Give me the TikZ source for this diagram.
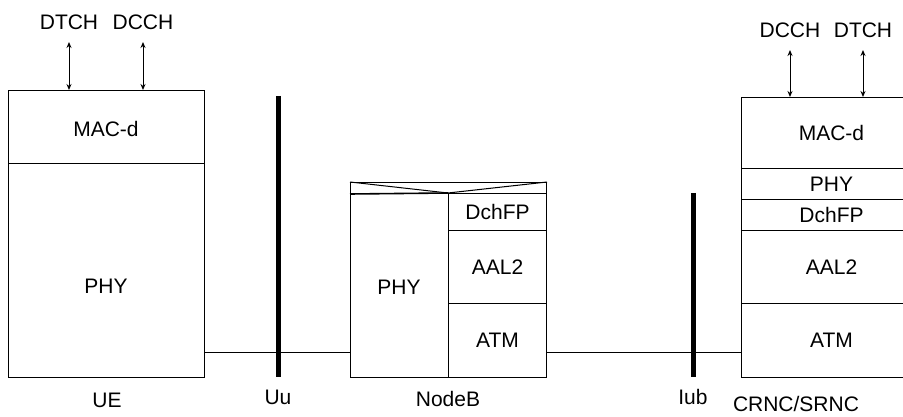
\documentclass[tikz,border=0pt]{standalone}
\usepackage{fontspec}
\setmainfont{Liberation Sans}
\usetikzlibrary{arrows.meta}
\begin{document}
\begin{tikzpicture}[x=1pt,y=-1pt,
  every node/.style={font=\fontsize{21}{24}\selectfont},
  layer/.style={draw, line width=1pt, inner sep=0pt, anchor=north west},
  txt/.style={inner sep=0pt},
  bar/.style={line width=5pt},
  wire/.style={line width=1pt},
  chan/.style={line width=1pt, {Stealth[length=6pt,width=5pt]}-{Stealth[length=6pt,width=5pt]}}]
\useasboundingbox (0,0) rectangle (903,417);
\begin{scope}
\clip (0,0) rectangle (903,417);
% UE
\node[layer, minimum width=196pt, minimum height=73pt] (uemac) at (8,90) {};
\node[layer, minimum width=196pt, minimum height=214pt] (uephy) at (8,163) {};
\node[txt] (uemact) at (106,129) {MAC-d};
\node[txt] (uephyt) at (106,286) {PHY};
% NodeB
\node[layer, minimum width=98pt, minimum height=184pt] (nbphy) at (350,193) {};
\node[layer, minimum width=98pt, minimum height=37pt] (nbfp) at (448,193) {DchFP};
\node[layer, minimum width=98pt, minimum height=73pt] (nbaal) at (448,230) {AAL2};
\node[layer, minimum width=98pt, minimum height=74pt] (nbatm) at (448,303) {ATM};
\node[layer, minimum width=196pt, minimum height=11pt] (nbtop) at (350,182) {};
\coordinate (nbmid) at (448,193);
\draw[wire] (nbtop.north west) -- (nbmid) -- (nbtop.north east);
\draw[line width=1.6pt] (nbtop.south west) -- (nbmid);
\node[txt] (nbphyt) at (399,287) {PHY};
% CRNC
\node[layer, minimum width=180pt, minimum height=71pt] (rnmac) at (741,97) {MAC-d};
\node[layer, minimum width=180pt, minimum height=31pt] (rnphy) at (741,168) {PHY};
\node[layer, minimum width=180pt, minimum height=31pt] (rnfp) at (741,199) {DchFP};
\node[layer, minimum width=180pt, minimum height=73pt] (rnaal) at (741,230) {AAL2};
\node[layer, minimum width=180pt, minimum height=74pt] (rnatm) at (741,303) {ATM};
\end{scope}
% interfaces
\coordinate (uutop) at (278,96);
\coordinate (uubot) at (278,377);
\coordinate (iubtop) at (693,193);
\coordinate (iubbot) at (693,377);
\draw[wire] (uephy.east |- 0,352) -- (nbphy.west |- 0,352);
\draw[wire] (nbatm.east |- 0,352) -- (rnatm.west |- 0,352);
\draw[bar] (uutop) -- (uubot);
\draw[bar] (iubtop) -- (iubbot);
% channels
\node[txt] (ldtch) at (69,22) {DTCH};
\node[txt] (ldcch) at (143,22) {DCCH};
\coordinate (la1) at (69,42);
\coordinate (la2) at (143,42);
\draw[chan] (la1) -- (la1 |- uemac.north);
\draw[chan] (la2) -- (la2 |- uemac.north);
\node[txt] (rdcch) at (790,30) {DCCH};
\node[txt] (rdtch) at (863,30) {DTCH};
\coordinate (ra1) at (790,50);
\coordinate (ra2) at (863,50);
\draw[chan] (ra1) -- (ra1 |- rnmac.north);
\draw[chan] (ra2) -- (ra2 |- rnmac.north);
% labels
\node[txt] (uel) at (107,400) {UE};
\node[txt] (uul) at (278,397) {Uu};
\node[txt] (nbl) at (448,399) {NodeB};
\node[txt] (iubl) at (693,397) {Iub};
\node[txt] (rnl) at (796,404) {CRNC/SRNC};
\end{tikzpicture}
\end{document}
